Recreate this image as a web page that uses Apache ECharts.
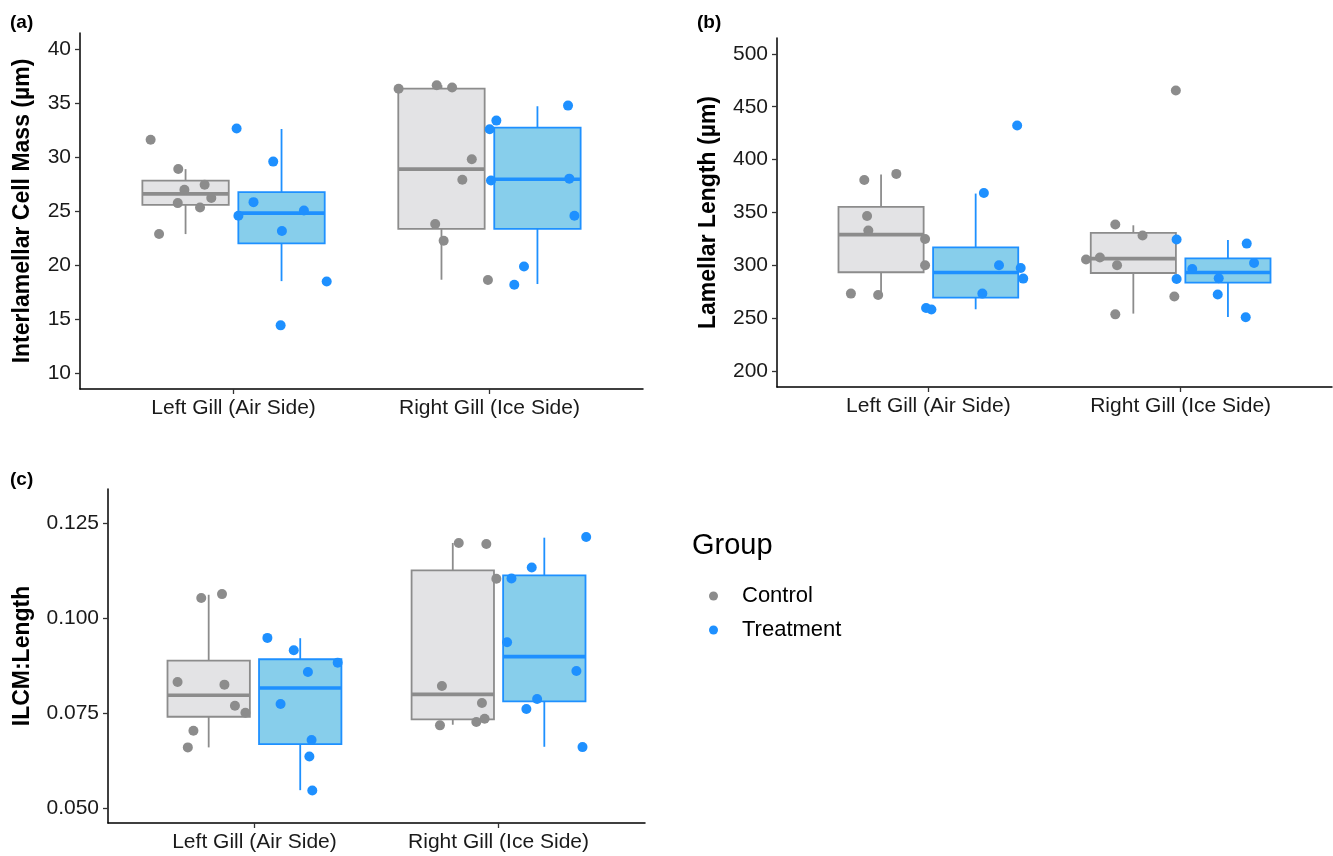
<!DOCTYPE html>
<html>
<head>
<meta charset="utf-8">
<title>Gill morphology</title>
<script src="https://cdn.jsdelivr.net/npm/echarts@6/dist/echarts.min.js"></script>
<style>
  html, body { margin: 0; padding: 0; background: #fff; }
  #chart { width: 1333px; height: 856px; }
</style>
</head>
<body>
<div id="chart"></div>
<script>
// categories on the x axis (value axis, category k sits at x = k)
const categories = ["Left Gill (Air Side)", "Right Gill (Ice Side)"];
const groups = ["Control", "Treatment"];

// (a) Interlamellar cell mass, jittered points: x position, value
const icmControlX = [0.676, 0.784, 0.808, 0.887, 0.913, 0.782, 0.869, 0.709,
                     1.645, 1.794, 1.854, 1.931, 1.894, 1.788, 1.821, 1.994];
const icmControlY = [31.6, 28.9, 26.96, 27.43, 26.2, 25.73, 25.32, 22.86,
                     36.34, 36.66, 36.44, 29.8, 27.89, 23.79, 22.24, 18.6];
const icmTreatX = [1.012, 1.155, 1.078, 1.019, 1.275, 1.189, 1.364, 1.184,
                   2.027, 2.001, 2.006, 2.307, 2.312, 2.332, 2.135, 2.097];
const icmTreatY = [32.64, 29.58, 25.82, 24.56, 25.05, 23.14, 18.47, 14.4,
                   33.38, 32.58, 27.82, 34.77, 28.0, 24.56, 19.86, 18.17];
// box stats: [lower whisker, Q1, median, Q3, upper whisker] per category
const icmControlBox = [[22.86, 25.57, 26.59, 27.82, 28.88], [18.63, 23.35, 28.88, 36.34, 36.66]];
const icmTreatBox = [[18.5, 21.99, 24.8, 26.75, 32.6], [18.23, 23.35, 27.95, 32.73, 34.71]];
const icmTicks = [10, 15, 20, 25, 30, 35, 40];

// (b) Lamellar length
const lenControlX = [0.746, 0.873, 0.757, 0.762, 0.987, 0.987, 0.693, 0.801,
                     1.981, 1.741, 1.849, 1.625, 1.680, 1.748, 1.975, 1.741];
const lenControlY = [380.8, 386.5, 346.7, 332.9, 325.0, 300.1, 273.3, 272.0,
                     465.4, 338.6, 328.2, 305.5, 307.4, 300.1, 270.5, 253.7];
const lenTreatX = [1.352, 1.220, 1.280, 1.366, 1.376, 1.214, 0.991, 1.012,
                   1.984, 2.262, 2.291, 2.046, 2.151, 1.984, 2.147, 2.258];
const lenTreatY = [432.3, 368.5, 300.1, 297.5, 287.5, 273.3, 259.7, 258.2,
                   324.4, 320.6, 302.3, 296.6, 287.8, 287.1, 272.4, 250.9];
const lenControlBox = [[272.4, 293.5, 329.1, 355.3, 385.9], [254.4, 292.8, 306.4, 330.7, 337.9]];
const lenTreatBox = [[258.5, 269.5, 293.2, 317.1, 367.9], [251.2, 283.7, 293.2, 306.7, 324.0]];
const lenTicks = [200, 250, 300, 350, 400, 450, 500];

// (c) ILCM:Length ratio
const ratioControlX = [0.782, 0.867, 0.685, 0.877, 0.920, 0.963, 0.750, 0.727,
                       1.837, 1.950, 1.991, 1.768, 1.932, 1.943, 1.909, 1.760];
const ratioControlY = [0.10526, 0.10631, 0.08316, 0.08245, 0.0769, 0.07505, 0.0703, 0.06592,
                       0.11977, 0.11951, 0.11035, 0.0821, 0.07761, 0.07347, 0.0726, 0.07173];
const ratioTreatX = [1.053, 1.161, 1.341, 1.219, 1.107, 1.234, 1.225, 1.237,
                     2.359, 2.136, 2.053, 2.035, 2.319, 2.158, 2.114, 2.344];
const ratioTreatY = [0.09477, 0.09153, 0.08825, 0.0858, 0.07735, 0.06785, 0.06354, 0.05457,
                     0.12136, 0.11333, 0.11043, 0.09364, 0.08606, 0.07867, 0.07603, 0.066];
const ratioControlBox = [[0.06592, 0.074, 0.07965, 0.08878, 0.10613], [0.07189, 0.07331, 0.0799, 0.11254, 0.11977]];
const ratioTreatBox = [[0.05465, 0.06679, 0.08157, 0.08915, 0.09469], [0.06608, 0.07806, 0.08984, 0.11122, 0.12117]];
const ratioTicks = [0.05, 0.075, 0.1, 0.125];

// colours (ggplot look)
const COLORS = {
  Control: { point: "#8c8c8c", line: "#8c8c8c", fill: "#e3e3e5" },
  Treatment: { point: "#1e90ff", line: "#1e90ff", fill: "#87ceeb" },
};
const FONT = "'Liberation Sans', Arial, Helvetica, sans-serif";
const DODGE = 0.1875;     // half of dodge width 0.75
const HALF_BOX = 0.16875; // box half width in x units

function zip(xs, ys) {
  let _out = [];
  for (let i = 0; i < xs.length; i++) {
    _out.push([xs[i], ys[i]]);
  }
  return _out;
}

// box rows: [x, lo, q1, med, q3, hi]
function boxRows(stats, offset) {
  return stats.map((s, i) => [i + 1 + offset].concat(s));
}

function boxRenderer(group) {
  let _c = COLORS[group];
  return function (params, api) {
    let x = api.value(0);
    let lo = api.value(1), q1 = api.value(2), med = api.value(3), q3 = api.value(4), hi = api.value(5);
    let tl = api.coord([x - HALF_BOX, q3]);
    let br = api.coord([x + HALF_BOX, q1]);
    let pMedL = api.coord([x - HALF_BOX, med]);
    let pMedR = api.coord([x + HALF_BOX, med]);
    let pHi = api.coord([x, hi]);
    let pLo = api.coord([x, lo]);
    let lineStyle = { stroke: _c.line, lineWidth: 1.8 };
    return {
      type: "group",
      children: [
        { type: "line", shape: { x1: pHi[0], y1: pHi[1], x2: pHi[0], y2: tl[1] }, style: lineStyle },
        { type: "line", shape: { x1: pLo[0], y1: br[1], x2: pLo[0], y2: pLo[1] }, style: lineStyle },
        {
          type: "rect",
          shape: { x: tl[0], y: tl[1], width: br[0] - tl[0], height: br[1] - tl[1] },
          style: { fill: _c.fill, stroke: _c.line, lineWidth: 1.8 },
        },
        { type: "line", shape: { x1: pMedL[0], y1: pMedL[1], x2: pMedR[0], y2: pMedR[1] }, style: { stroke: _c.line, lineWidth: 3.6 } },
      ],
    };
  };
}

function xAxisFor(gridIndex) {
  return {
    type: "value",
    gridIndex: gridIndex,
    min: 0.4,
    max: 2.6,
    splitLine: { show: false },
    axisLine: { show: true, lineStyle: { color: "#000", width: 1.5 } },
    axisTick: { show: true, customValues: [1, 2], length: 5, lineStyle: { color: "#333", width: 1.3 } },
    axisLabel: {
      show: true,
      customValues: [1, 2],
      margin: 9,
      color: "#1a1a1a",
      fontSize: 21,
      fontFamily: FONT,
      formatter: (v) => categories[Math.round(v) - 1],
    },
  };
}

function yAxisFor(gridIndex, name, min, max, ticks, nameGap, fmt) {
  return {
    type: "value",
    gridIndex: gridIndex,
    min: min,
    max: max,
    name: name,
    nameLocation: "middle",
    nameRotate: 90,
    nameGap: nameGap,
    nameTextStyle: { fontSize: 23, fontWeight: "bold", color: "#000", fontFamily: FONT },
    splitLine: { show: false },
    axisLine: { show: true, lineStyle: { color: "#000", width: 1.5 } },
    axisTick: { show: true, customValues: ticks, length: 5, lineStyle: { color: "#333", width: 1.3 } },
    axisLabel: {
      show: true,
      customValues: ticks,
      margin: 9,
      color: "#1a1a1a",
      fontSize: 21,
      fontFamily: FONT,
      formatter: fmt,
    },
  };
}

function panelSeries(gridIndex, ctrlX, ctrlY, trtX, trtY, ctrlBox, trtBox) {
  return [
    {
      type: "custom",
      name: "Control",
      xAxisIndex: gridIndex,
      yAxisIndex: gridIndex,
      renderItem: boxRenderer("Control"),
      data: boxRows(ctrlBox, -DODGE),
      encode: { x: 0, y: [1, 2, 3, 4, 5] },
      itemStyle: { color: COLORS.Control.point },
      silent: true,
      z: 1,
    },
    {
      type: "custom",
      name: "Treatment",
      xAxisIndex: gridIndex,
      yAxisIndex: gridIndex,
      renderItem: boxRenderer("Treatment"),
      data: boxRows(trtBox, DODGE),
      encode: { x: 0, y: [1, 2, 3, 4, 5] },
      itemStyle: { color: COLORS.Treatment.point },
      silent: true,
      z: 1,
    },
    {
      type: "scatter",
      name: "Control",
      xAxisIndex: gridIndex,
      yAxisIndex: gridIndex,
      symbolSize: 10,
      itemStyle: { color: COLORS.Control.point, opacity: 1 },
      data: zip(ctrlX, ctrlY),
      z: 3,
    },
    {
      type: "scatter",
      name: "Treatment",
      xAxisIndex: gridIndex,
      yAxisIndex: gridIndex,
      symbolSize: 10,
      itemStyle: { color: COLORS.Treatment.point, opacity: 1 },
      data: zip(trtX, trtY),
      z: 3,
    },
  ];
}

let _chartDom = document.getElementById("chart");
let myChart = echarts.init(_chartDom, null, { renderer: "canvas" });

let _labelStyle = { fontSize: 19, fontWeight: "bold", color: "#000", fontFamily: FONT };

let option = {
  animation: false,
  backgroundColor: "#fff",
  textStyle: { fontFamily: FONT },
  title: [
    { text: "(a)", left: 5, top: 8, textStyle: _labelStyle },
    { text: "(b)", left: 692, top: 8, textStyle: _labelStyle },
    { text: "(c)", left: 5, top: 465, textStyle: _labelStyle },
    { text: "Group", left: 687, top: 526, textStyle: { fontSize: 29, fontWeight: "normal", color: "#000", fontFamily: FONT } },
  ],
  legend: {
    data: groups,
    orient: "vertical",
    left: 704,
    top: 579,
    icon: "circle",
    itemWidth: 9,
    itemHeight: 9,
    itemGap: 10,
    textStyle: { fontSize: 22, color: "#000", lineHeight: 24, fontFamily: FONT, padding: [0, 0, 0, 19] },
    selectedMode: false,
  },
  grid: [
    { left: 80, top: 33, width: 563, height: 356 },
    { left: 777, top: 38, width: 555, height: 349 },
    { left: 108, top: 489, width: 537, height: 334 },
  ],
  xAxis: [xAxisFor(0), xAxisFor(1), xAxisFor(2)],
  yAxis: [
    yAxisFor(0, "Interlamellar Cell Mass (µm)", 8.5, 41.5, icmTicks, 46, (v) => String(v)),
    yAxisFor(1, "Lamellar Length (µm)", 185, 515, lenTicks, 57, (v) => String(v)),
    yAxisFor(2, "ILCM:Length", 0.046, 0.134, ratioTicks, 74, (v) => v.toFixed(3)),
  ],
  series: []
    .concat(panelSeries(0, icmControlX, icmControlY, icmTreatX, icmTreatY, icmControlBox, icmTreatBox))
    .concat(panelSeries(1, lenControlX, lenControlY, lenTreatX, lenTreatY, lenControlBox, lenTreatBox))
    .concat(panelSeries(2, ratioControlX, ratioControlY, ratioTreatX, ratioTreatY, ratioControlBox, ratioTreatBox)),
};

myChart.setOption(option);
</script>
</body>
</html>
